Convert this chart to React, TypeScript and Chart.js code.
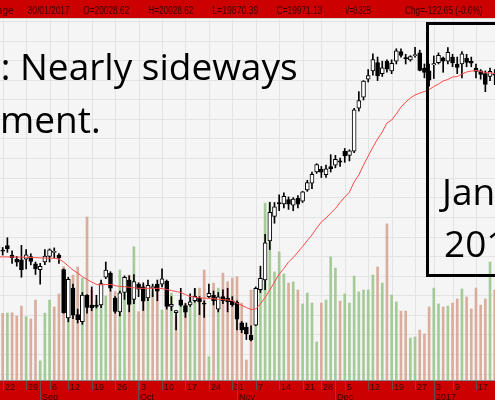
import React, { useEffect, useRef } from "react";
import { Chart, registerables } from "chart.js";

Chart.register(...registerables);

// ---------- DATA ----------
const tradingDays: string[] = [
  "2016-08-19","2016-08-22","2016-08-23","2016-08-24","2016-08-25","2016-08-26","2016-08-29","2016-08-30","2016-08-31",
  "2016-09-01","2016-09-02","2016-09-06","2016-09-07","2016-09-08","2016-09-09","2016-09-12","2016-09-13","2016-09-14","2016-09-15","2016-09-16",
  "2016-09-19","2016-09-20","2016-09-21","2016-09-22","2016-09-23","2016-09-26","2016-09-27","2016-09-28","2016-09-29","2016-09-30",
  "2016-10-03","2016-10-04","2016-10-05","2016-10-06","2016-10-07","2016-10-10","2016-10-11","2016-10-12","2016-10-13","2016-10-14",
  "2016-10-17","2016-10-18","2016-10-19","2016-10-20","2016-10-21","2016-10-24","2016-10-25","2016-10-26","2016-10-27","2016-10-28",
  "2016-10-31","2016-11-01","2016-11-02","2016-11-03","2016-11-04","2016-11-07","2016-11-08","2016-11-09","2016-11-10","2016-11-11",
  "2016-11-14","2016-11-15","2016-11-16","2016-11-17","2016-11-18","2016-11-21","2016-11-22","2016-11-23","2016-11-25","2016-11-28",
  "2016-11-29","2016-11-30","2016-12-01","2016-12-02","2016-12-05","2016-12-06","2016-12-07","2016-12-08","2016-12-09","2016-12-12",
  "2016-12-13","2016-12-14","2016-12-15","2016-12-16","2016-12-19","2016-12-20","2016-12-21","2016-12-22","2016-12-23","2016-12-27",
  "2016-12-28","2016-12-29","2016-12-30","2017-01-03","2017-01-04","2017-01-05","2017-01-06","2017-01-09","2017-01-10","2017-01-11",
  "2017-01-12","2017-01-13","2017-01-17","2017-01-18","2017-01-19","2017-01-20","2017-01-23","2017-01-24","2017-01-25","2017-01-26",
  "2017-01-27","2017-01-30",
];

const opens: number[] = [
  18560,18535,18568,18500,18470,18465,18470,18490,18437,18395,
  18450,18490,18520,18500,18395,18046,18262,18070,18020,18210,
  18139,18139,18140,18340,18370,18190,18090,18230,18320,18180,
  18290,18270,18190,18265,18290,18290,18310,18130,18085,18177,
  18135,18140,18170,18190,18150,18200,18210,18110,18200,18190,
  18170,18160,18010,17980,17920,17994,18250,18320,18603,18780,
  18880,18870,18900,18860,18910,18890,18970,19020,19100,19120,
  19080,19140,19150,19180,19250,19220,19250,19560,19640,19770,
  19830,19890,19810,19900,19830,19900,19970,19920,19910,19940,
  19960,19850,19830,19873,19890,19924,19900,19930,19880,19880,
  19920,19900,19850,19830,19810,19790,19800,19800,19950,20060,
  20100,20028.62,
];

const highs: number[] = [
  18575,18555,18625,18530,18490,18570,18540,18510,18450,18440,
  18540,18545,18552,18510,18400,18340,18290,18110,18230,18215,
  18270,18210,18320,18450,18380,18200,18240,18350,18350,18360,
  18300,18300,18320,18290,18320,18400,18320,18200,18100,18260,
  18150,18220,18260,18200,18170,18290,18240,18230,18250,18260,
  18200,18170,18020,18010,17990,18270,18420,18650,18880,18880,
  18935,18950,18920,18915,18930,18960,19040,19100,19160,19140,
  19150,19225,19220,19200,19270,19260,19560,19680,19760,19840,
  19953,19930,19900,19910,19910,19990,19990,19950,19940,20000,
  19980,19880,19880,19938,19960,19930,19999,19950,19930,19970,
  19950,19930,19880,19840,19830,19850,19840,19950,20080,20126,
  20115,20028.62,
];

const lows: number[] = [
  18500,18500,18520,18440,18420,18340,18400,18430,18360,18290,
  18430,18450,18480,18440,18080,18018,18040,18010,18000,18080,
  18098,18118,18120,18330,18240,18080,18060,18180,18090,18150,
  18200,18100,18170,18200,18170,18270,18110,18100,17960,18130,
  18050,18130,18160,18070,18050,18190,18140,18090,18150,18090,
  18130,17960,17940,17890,17880,17990,18230,18250,18540,18730,
  18820,18840,18830,18820,18840,18880,18960,18980,19090,19060,
  19060,19100,19130,19140,19170,19180,19240,19540,19620,19750,
  19800,19760,19790,19820,19810,19880,19930,19880,19900,19930,
  19830,19780,19720,19775,19880,19820,19880,19860,19810,19780,
  19860,19860,19780,19770,19680,19760,19730,19790,19940,20050,
  20080,19870.39,
];

const closes: number[] = [
  18552,18529,18547,18481,18448,18395,18502,18454,18400,18419,
  18492,18538,18526,18479,18085,18325,18067,18034,18212,18123,
  18120,18130,18294,18392,18261,18094,18228,18339,18143,18308,
  18254,18168,18281,18269,18240,18329,18129,18144,18099,18138,
  18087,18162,18203,18162,18146,18223,18169,18199,18170,18161,
  18142,18037,17960,17931,17888,18260,18332,18589,18808,18848,
  18869,18924,18868,18904,18868,18957,19024,19083,19153,19098,
  19122,19124,19192,19171,19216,19252,19549,19615,19757,19797,
  19911,19793,19853,19843,19884,19975,19942,19919,19934,19946,
  19834,19819,19763,19882,19943,19900,19964,19887,19856,19954,
  19892,19886,19827,19804,19732,19827,19799,19913,20069,20100,
  20093.78,19971.13,
];

// volume in billions of shares
const volumes: number[] = [
  0.25,
  0.240,0.241,0.242,0.230,0.266,0.228,0.220,0.288,0.069,0.241,
  0.288,0.263,0.310,0.408,0.342,0.378,0.407,0.367,0.587,0.324,
  0.288,0.349,0.302,0.324,0.318,0.396,0.367,0.378,0.480,0.246,
  0.342,0.296,0.318,0.328,0.252,0.277,0.313,0.228,0.278,0.277,
  0.300,0.328,0.331,0.396,0.084,0.349,0.331,0.385,0.354,0.367,
  0.372,0.277,0.072,0.324,0.331,0.328,0.637,0.641,0.389,0.461,
  0.382,0.349,0.353,0.324,0.274,0.313,0.277,0.137,0.277,0.288,
  0.443,0.403,0.284,0.310,0.277,0.374,0.317,0.324,0.324,0.378,
  0.407,0.349,0.562,0.306,0.281,0.248,0.248,0.151,0.155,0.180,
  0.166,0.263,0.331,0.274,0.263,0.266,0.277,0.292,0.328,0.299,
  0.256,0.331,0.270,0.292,0.425,0.324,
  0.35,0.40,0.33,0.30,0.32,
];

// moving average
const movingAvg: number[] = [
  18488,
  18487,18487,18486,18485,18485,18484,18483,18482,18480,18479,
  18477,18477,18472,18450,18421,18392,18370,18345,18324,18305,
  18289,18284,18287,18288,18280,18273,18272,18268,18264,18260,
  18260,18260,18260,18260,18258,18251,18244,18237,18230,18215,
  18201,18196,18191,18189,18188,18185,18181,18178,18176,18171,
  18152,18138,18121,18107,18111,18147,18194,18248,18305,18363,
  18403,18450,18482,18522,18562,18605,18645,18695,18739,18768,
  18804,18836,18880,18919,18955,19028,19078,19150,19215,19280,
  19338,19389,19454,19475,19519,19569,19605,19634,19656,19670,
  19681,19695,19717,19735,19757,19768,19786,19789,19807,19822,
  19829,19833,19825,19818,19815,19812,
  19815,19825,19840,19855,19865,
];

const weekTickDates: string[] = [
  "2016-08-22","2016-08-29","2016-09-06","2016-09-12","2016-09-19","2016-09-26","2016-10-03","2016-10-10",
  "2016-10-17","2016-10-24","2016-10-31","2016-11-07","2016-11-14","2016-11-21","2016-11-28","2016-12-05",
  "2016-12-12","2016-12-19","2016-12-27","2017-01-03","2017-01-09","2017-01-17","2017-01-23","2017-01-30",
];
const monthTickDates: string[] = ["2016-09-01","2016-10-03","2016-11-01","2016-12-01","2017-01-03"];
const monthTickLabels: string[] = ["Sep","Oct","Nov","Dec","2017"];

const priceGrid: number[] = [
  17644,17785,17927,18068,18210,18351,18493,18634,18776,18917,
  19059,19200,19342,19483,19625,19766,19908,20049,20191,
];

const headerName = "Dow Jones Industrial Average";
const headerDate = "30/01/2017";
const noteLine1 = "Dec 2016 – Jan 2017: Nearly sideways";
const noteLine2 = "movement.";
const boxLine1 = "Jan";
const boxLine2 = "2017";

// ---------- COMPONENT ----------
const RED = "#cc0000";
const DARK = "#3a0000";

export default function App() {
  const ref = useRef<HTMLCanvasElement | null>(null);

  useEffect(() => {
    const canvas = ref.current;
    if (!canvas) return;
    const n = tradingDays.length;
    const idx = (d: string) => tradingDays.indexOf(d);

    const decor = {
      id: "decor",
      beforeDatasetsDraw(chart: any) {
        const { ctx, chartArea: a, scales } = chart;
        ctx.save();
        ctx.fillStyle = "#f5f5f5";
        ctx.fillRect(a.left, a.top, a.right - a.left, a.bottom - a.top);
        ctx.strokeStyle = "#e3e3e3";
        ctx.lineWidth = 1;
        ctx.beginPath();
        weekTickDates.forEach((d) => {
          const x = Math.round(scales.x.getPixelForValue(idx(d))) + 0.5;
          ctx.moveTo(x, a.top);
          ctx.lineTo(x, a.bottom);
        });
        priceGrid.forEach((p) => {
          const y = Math.round(scales.y.getPixelForValue(p)) + 0.5;
          ctx.moveTo(a.left, y);
          ctx.lineTo(a.right, y);
        });
        ctx.stroke();
        ctx.restore();
      },
      afterDraw(chart: any) {
        const { ctx, chartArea: a, scales, width, height } = chart;
        ctx.save();
        // header
        ctx.fillStyle = RED;
        ctx.fillRect(0, 0, width, a.top);
        ctx.fillStyle = "#d8d8d8";
        ctx.fillRect(0, a.top, width, 1);
        const last = n - 1;
        const chg = closes[last] - closes[last - 1];
        const pct = (chg / closes[last - 1]) * 100;
        ctx.font = "10px 'Liberation Sans', Arial, sans-serif";
        ctx.fillStyle = DARK;
        ctx.textBaseline = "alphabetic";
        ctx.textAlign = "right";
        ctx.fillText(headerName, 13.5, 13.5);
        ctx.textAlign = "left";
        const items: [string, number, number][] = [
          [headerDate, 27.7, 42],
          ["O=" + opens[last].toFixed(2), 83.3, 46],
          ["H=" + highs[last].toFixed(2), 148.3, 45],
          ["L=" + lows[last].toFixed(2), 212.3, 46],
          ["C=" + closes[last].toFixed(2), 276.7, 45.6],
          ["V=" + volumes[last].toFixed(2) + "B", 345, 26],
          ["Chg=" + chg.toFixed(2) + " (" + pct.toFixed(1) + "%)", 405, 77.5],
        ];
        items.forEach(([t, x, w]) => ctx.fillText(t, x, 13.5, w));

        // footer
        ctx.fillStyle = RED;
        ctx.fillRect(0, a.bottom + 1, width, height - a.bottom - 1);
        ctx.fillStyle = "#8a8a8a";
        ctx.fillRect(0, a.bottom, width, 1);
        ctx.strokeStyle = "#6a4a4a";
        ctx.lineWidth = 1;
        ctx.font = "9px 'Liberation Sans', Arial, sans-serif";
        ctx.fillStyle = DARK;
        ctx.beginPath();
        weekTickDates.forEach((d) => {
          const x = Math.round(scales.x.getPixelForValue(idx(d))) + 0.5;
          ctx.moveTo(x, a.bottom + 1);
          ctx.lineTo(x, a.bottom + 10);
          ctx.fillText(String(Number(d.slice(8))), x + 1.5, a.bottom + 10);
        });
        monthTickDates.forEach((d, k) => {
          const x = Math.round(scales.x.getPixelForValue(idx(d) - 0.05)) + 0.5;
          ctx.moveTo(x, a.bottom + 1);
          ctx.lineTo(x, height);
          ctx.fillText(monthTickLabels[k], x + 1.5, a.bottom + 19.5);
        });
        ctx.stroke();

        // annotation text
        ctx.fillStyle = "#000";
        ctx.font = "37px 'Open Sans', 'Noto Sans', sans-serif";
        ctx.textAlign = "left";
        const pre1 = noteLine1.slice(0, noteLine1.indexOf("Nearly"));
        ctx.fillText(noteLine1, 20 - ctx.measureText(pre1).width, 80);
        const pre2 = noteLine2.slice(0, noteLine2.indexOf("ment."));
        ctx.fillText(noteLine2, 0 - ctx.measureText(pre2).width, 133);
        ctx.fillText(boxLine1, 442, 205);
        ctx.fillText(boxLine2, 444, 257);

        // box
        ctx.strokeStyle = "#000";
        ctx.lineWidth = 3;
        ctx.strokeRect(427.5, 23.5, 120, 252);
        ctx.restore();
      },
    };

    const xs = tradingDays.map((_, i) => i);
    const chart = new Chart(canvas, {
      type: "bar",
      data: {
        datasets: [
          {
            type: "bar",
            label: "Volume",
            data: xs.map((i) => ({ x: i, y: volumes[i] })) as any,
            yAxisID: "yv",
            backgroundColor: xs.map((i) =>
              i === 0 || closes[i] >= closes[i - 1] ? "rgba(150,195,135,0.85)" : "rgba(214,160,140,0.85)"
            ),
            barThickness: 2,
            grouped: false,
            order: 4,
          } as any,
          {
            type: "bar",
            label: "Range",
            data: xs.map((i) => ({ x: i, y: [lows[i], highs[i]] })) as any,
            yAxisID: "y",
            backgroundColor: "#000",
            barThickness: 1,
            grouped: false,
            order: 3,
          } as any,
          {
            type: "bar",
            label: "Body",
            data: xs.map((i) => ({ x: i, y: [opens[i], closes[i]] })) as any,
            yAxisID: "y",
            backgroundColor: xs.map((i) => (closes[i] >= opens[i] ? "#ffffff" : "#000000")),
            borderColor: "#000",
            borderWidth: 1,
            borderSkipped: false,
            minBarLength: 1,
            barThickness: 4,
            grouped: false,
            order: 2,
          } as any,
          {
            type: "line",
            label: "MA",
            data: xs.map((i) => ({ x: i, y: movingAvg[i] })) as any,
            yAxisID: "y",
            borderColor: "#ff4a4a",
            borderWidth: 1,
            pointRadius: 0,
            tension: 0,
            order: 1,
          } as any,
        ],
      },
      options: {
        responsive: false,
        animation: false,
        devicePixelRatio: 1,
        layout: { padding: { top: 18, bottom: 20, left: 0, right: 0 } },
        plugins: { legend: { display: false }, tooltip: { enabled: false } },
        scales: {
          x: { type: "linear", min: 0.424, max: 106.06, display: false, offset: false },
          y: { type: "linear", min: 17598, max: 20212, display: false },
          yv: { type: "linear", min: 0, max: 1.3032, display: false },
        },
      } as any,
      plugins: [decor],
    });
    return () => chart.destroy();
  }, []);

  return (
    <div style={{ position: "fixed", left: 0, top: 0, width: 495, height: 400, background: "#fff" }}>
      <canvas ref={ref} width={495} height={400} style={{ display: "block" }} />
    </div>
  );
}
